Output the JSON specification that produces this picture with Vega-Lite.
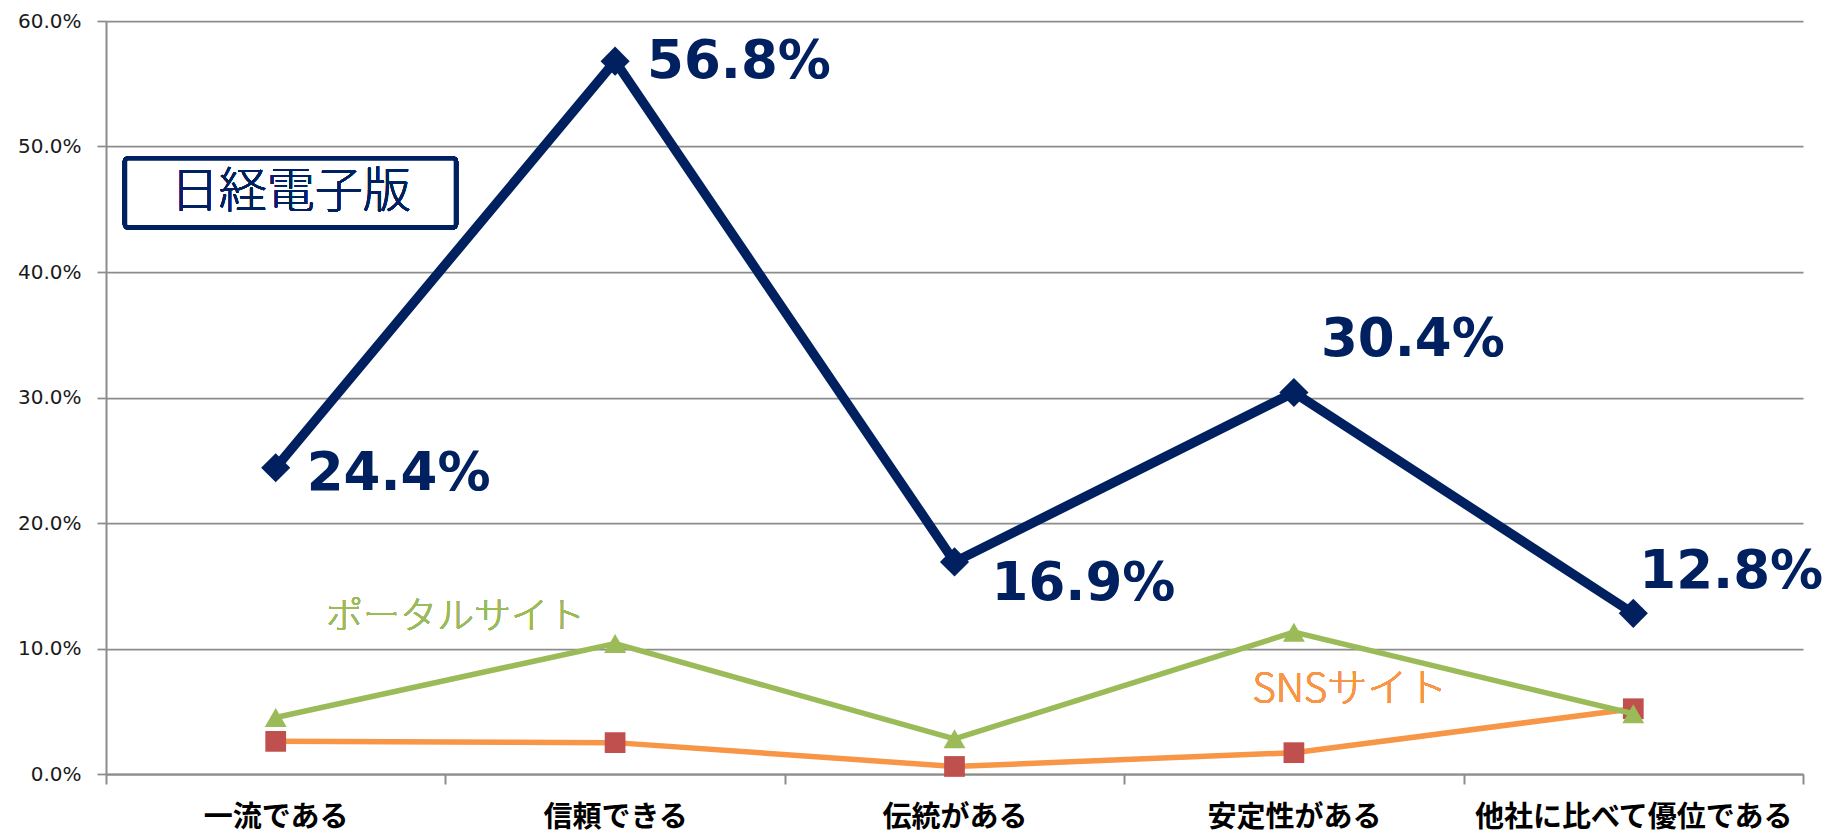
{
  "$schema": "https://vega.github.io/schema/vega-lite/v6.json",
  "width": 1697,
  "height": 753,
  "autosize": "none",
  "padding": {"left": 106, "top": 21, "right": 20, "bottom": 66},
  "background": "white",
  "config": {"view": {"stroke": null}},
  "datasets": {
    "main": [
      {"item": "一流である", "series": "日経電子版", "value": 0.244},
      {"item": "信頼できる", "series": "日経電子版", "value": 0.568},
      {"item": "伝統がある", "series": "日経電子版", "value": 0.169},
      {"item": "安定性がある", "series": "日経電子版", "value": 0.304},
      {"item": "他社に比べて優位である", "series": "日経電子版", "value": 0.128},
      {"item": "一流である", "series": "ポータルサイト", "value": 0.045},
      {"item": "信頼できる", "series": "ポータルサイト", "value": 0.104},
      {"item": "伝統がある", "series": "ポータルサイト", "value": 0.028},
      {"item": "安定性がある", "series": "ポータルサイト", "value": 0.113},
      {"item": "他社に比べて優位である", "series": "ポータルサイト", "value": 0.048},
      {"item": "一流である", "series": "SNSサイト", "value": 0.026},
      {"item": "信頼できる", "series": "SNSサイト", "value": 0.025},
      {"item": "伝統がある", "series": "SNSサイト", "value": 0.006},
      {"item": "安定性がある", "series": "SNSサイト", "value": 0.017},
      {"item": "他社に比べて優位である", "series": "SNSサイト", "value": 0.052}
    ]
  },
  "data": {"name": "main"},
  "layer": [
    {
      "transform": [{"filter": "datum.series === 'SNSサイト'"}],
      "mark": {"type": "line", "color": "#F79646", "strokeWidth": 5.5},
      "encoding": {
        "x": {
          "field": "item", "type": "nominal", "sort": null, "bandPosition": 0.5, "title": null,
          "scale": {"type": "band", "paddingInner": 0, "paddingOuter": 0,
            "domain": ["一流である", "信頼できる", "伝統がある", "安定性がある", "他社に比べて優位である"]},
          "axis": {
            "tickBand": "extent", "grid": false, "tickSize": 10, "tickWidth": 2, "tickColor": "#8c8c8c",
            "domainColor": "#8c8c8c", "domainWidth": 2, "labelAngle": 0, "labelLimit": 0,
            "labelFont": "Noto Sans CJK JP", "labelFontWeight": "bold", "labelFontSize": 29,
            "labelColor": "#000000", "labelPadding": 19
          }
        },
        "y": {
          "field": "value", "type": "quantitative", "title": null,
          "scale": {"domain": [0, 0.6], "nice": false, "zero": true},
          "axis": {
            "values": [0, 0.1, 0.2, 0.3, 0.4, 0.5, 0.6], "format": ".1%",
            "grid": true, "gridColor": "#8c8c8c", "gridWidth": 1.75,
            "domainColor": "#8c8c8c", "domainWidth": 2, "tickColor": "#8c8c8c", "tickWidth": 1.75, "tickSize": 9,
            "labelFont": "DejaVu Sans", "labelFontSize": 20, "labelColor": "#1a1a1a", "labelPadding": 16
          }
        }
      }
    },
    {
      "transform": [{"filter": "datum.series === 'SNSサイト'"}],
      "mark": {"type": "point", "shape": "square", "filled": true, "size": 430, "color": "#C0504D", "opacity": 1},
      "encoding": {
        "x": {"field": "item", "type": "nominal", "sort": null, "bandPosition": 0.5, "title": null},
        "y": {"field": "value", "type": "quantitative", "title": null}
      }
    },
    {
      "transform": [{"filter": "datum.series === 'ポータルサイト'"}],
      "mark": {"type": "line", "color": "#9BBB59", "strokeWidth": 5.5},
      "encoding": {
        "x": {"field": "item", "type": "nominal", "sort": null, "bandPosition": 0.5, "title": null},
        "y": {"field": "value", "type": "quantitative", "title": null}
      }
    },
    {
      "transform": [{"filter": "datum.series === 'ポータルサイト'"}],
      "mark": {"type": "point", "shape": "triangle-up", "filled": true, "size": 480, "color": "#9BBB59", "opacity": 1},
      "encoding": {
        "x": {"field": "item", "type": "nominal", "sort": null, "bandPosition": 0.5, "title": null},
        "y": {"field": "value", "type": "quantitative", "title": null}
      }
    },
    {
      "transform": [{"filter": "datum.series === '日経電子版'"}],
      "mark": {"type": "line", "color": "#002060", "strokeWidth": 9.5},
      "encoding": {
        "x": {"field": "item", "type": "nominal", "sort": null, "bandPosition": 0.5, "title": null},
        "y": {"field": "value", "type": "quantitative", "title": null}
      }
    },
    {
      "transform": [{"filter": "datum.series === '日経電子版'"}],
      "mark": {"type": "point", "shape": "diamond", "filled": true, "size": 850, "color": "#002060", "opacity": 1},
      "encoding": {
        "x": {"field": "item", "type": "nominal", "sort": null, "bandPosition": 0.5, "title": null},
        "y": {"field": "value", "type": "quantitative", "title": null}
      }
    },
    {
      "transform": [{"filter": "datum.series === '日経電子版' && datum.item === '一流である'"}],
      "mark": {"type": "text", "align": "left", "baseline": "middle", "dx": 31, "dy": 6, "font": "DejaVu Sans", "fontWeight": "bold", "fontSize": 53, "color": "#002060"},
      "encoding": {
        "x": {"field": "item", "type": "nominal", "sort": null, "bandPosition": 0.5, "title": null},
        "y": {"field": "value", "type": "quantitative", "title": null},
        "text": {"field": "value", "type": "quantitative", "format": ".1%"}
      }
    },
    {
      "transform": [{"filter": "datum.series === '日経電子版' && datum.item === '信頼できる'"}],
      "mark": {"type": "text", "align": "left", "baseline": "middle", "dx": 32, "dy": 1, "font": "DejaVu Sans", "fontWeight": "bold", "fontSize": 53, "color": "#002060"},
      "encoding": {
        "x": {"field": "item", "type": "nominal", "sort": null, "bandPosition": 0.5, "title": null},
        "y": {"field": "value", "type": "quantitative", "title": null},
        "text": {"field": "value", "type": "quantitative", "format": ".1%"}
      }
    },
    {
      "transform": [{"filter": "datum.series === '日経電子版' && datum.item === '伝統がある'"}],
      "mark": {"type": "text", "align": "left", "baseline": "middle", "dx": 37, "dy": 22, "font": "DejaVu Sans", "fontWeight": "bold", "fontSize": 53, "color": "#002060"},
      "encoding": {
        "x": {"field": "item", "type": "nominal", "sort": null, "bandPosition": 0.5, "title": null},
        "y": {"field": "value", "type": "quantitative", "title": null},
        "text": {"field": "value", "type": "quantitative", "format": ".1%"}
      }
    },
    {
      "transform": [{"filter": "datum.series === '日経電子版' && datum.item === '安定性がある'"}],
      "mark": {"type": "text", "align": "left", "baseline": "middle", "dx": 27, "dy": -52, "font": "DejaVu Sans", "fontWeight": "bold", "fontSize": 53, "color": "#002060"},
      "encoding": {
        "x": {"field": "item", "type": "nominal", "sort": null, "bandPosition": 0.5, "title": null},
        "y": {"field": "value", "type": "quantitative", "title": null},
        "text": {"field": "value", "type": "quantitative", "format": ".1%"}
      }
    },
    {
      "transform": [{"filter": "datum.series === '日経電子版' && datum.item === '他社に比べて優位である'"}],
      "mark": {"type": "text", "align": "left", "baseline": "middle", "dx": 6, "dy": -41, "font": "DejaVu Sans", "fontWeight": "bold", "fontSize": 53, "color": "#002060"},
      "encoding": {
        "x": {"field": "item", "type": "nominal", "sort": null, "bandPosition": 0.5, "title": null},
        "y": {"field": "value", "type": "quantitative", "title": null},
        "text": {"field": "value", "type": "quantitative", "format": ".1%"}
      }
    },
    {
      "mark": {"type": "rect", "fill": "white", "stroke": "#002060", "strokeWidth": 4.5, "cornerRadius": 3},
      "encoding": {
        "x": {"datum": "一流である", "bandPosition": 0.056},
        "x2": {"datum": "信頼できる", "bandPosition": 0.031},
        "y": {"datum": 0.4904},
        "y2": {"datum": 0.4356}
      }
    },
    {
      "mark": {"type": "text", "align": "center", "baseline": "middle", "font": "Noto Sans CJK JP", "fontWeight": 300, "fontSize": 48, "color": "#002060"},
      "encoding": {
        "x": {"datum": "一流である", "bandPosition": 0.544},
        "y": {"datum": 0.4633},
        "text": {"value": "日経電子版"}
      }
    },
    {
      "mark": {"type": "text", "align": "center", "baseline": "middle", "font": "Noto Sans CJK JP", "fontWeight": 300, "fontSize": 37, "color": "#9BBB59"},
      "encoding": {
        "x": {"datum": "信頼できる", "bandPosition": 0.03},
        "y": {"datum": 0.124},
        "text": {"value": "ポータルサイト"}
      }
    },
    {
      "mark": {"type": "text", "align": "center", "baseline": "middle", "font": "Noto Sans CJK JP", "fontWeight": 300, "fontSize": 40, "color": "#F79646"},
      "encoding": {
        "x": {"datum": "安定性がある", "bandPosition": 0.665},
        "y": {"datum": 0.067},
        "text": {"value": "SNSサイト"}
      }
    }
  ]
}
